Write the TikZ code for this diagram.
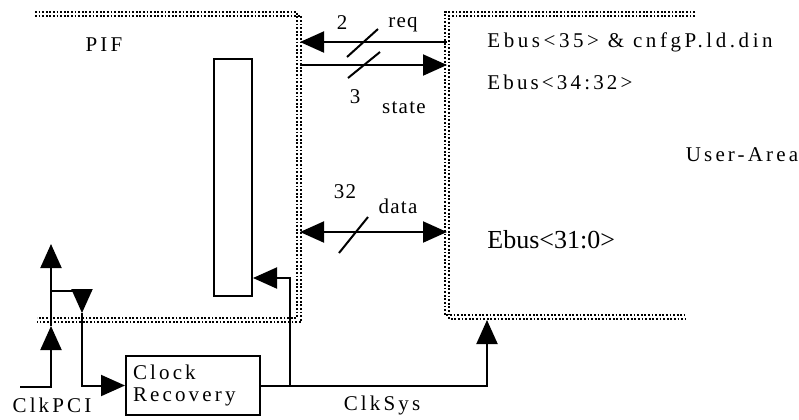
\documentclass[tikz,border=0pt]{standalone}
\usepackage{fontspec}
\setmainfont{Liberation Serif}
\newfontfamily\spacedfont[LetterSpace=15]{Liberation Serif}
\newfontfamily\widefont[LetterSpace=17]{Liberation Serif}
\newfontfamily\busfont[LetterSpace=6]{Liberation Serif}
\usetikzlibrary{arrows.meta, positioning, calc}

\begin{document}
\begin{tikzpicture}[
    x=0.5pt, y=-0.5pt,
    box/.style={draw, line width=1pt, inner sep=0pt},
    wire/.style={line width=1pt},
    arr/.style={-{Triangle[length=12pt, width=10.5pt]}},
    both/.style={{Triangle[length=12pt, width=10.5pt]}-{Triangle[length=12pt, width=10.5pt]}},
    bound/.style={line width=1.3pt, dash pattern=on 0.9pt off 0.9pt},
    sig/.style={font=\fontsize{10.5}{11}\selectfont\spacedfont, inner sep=0pt},
    bus/.style={font=\fontsize{10.5}{11}\selectfont\busfont, inner sep=0pt}
  ]
  \useasboundingbox (0,0) rectangle (799,419);

  % area borders (double dotted)
  \draw[bound] (35,12) -- (297,12) -- (297,318) -- (37,318);
  \draw[bound] (35,16) -- (301,16) -- (301,322) -- (37,322);
  \draw[bound] (695,12) -- (445,12) -- (445,315) -- (685,315);
  \draw[bound] (695,16) -- (449,16) -- (449,319) -- (685,319);

  \node[sig] (pif) at (104,45) {PIF};
  \node[sig] (user) at (742,155) {User-Area};

  \node[box, minimum width=19pt, minimum height=118.5pt] (reg) at (233,177.5) {};
  \node[box, sig, inner xsep=3.5pt, text width=60pt, minimum height=29.5pt,
        align=left] (clk) at (193,385.5) {Clock\\Recovery};

  % buses between the areas
  \coordinate (reqL) at (300,42);
  \coordinate (reqR) at (447,42);
  \coordinate (stL) at (300,65);
  \coordinate (stR) at (447,65);
  \coordinate (dataL) at (300,232);
  \coordinate (dataR) at (447,232);
  \draw[wire, arr] (reqR) -- (reqL);
  \draw[wire, arr] (stL) -- (stR);
  \draw[wire, both] (dataL) -- (dataR);
  \draw[wire] (347,57) -- (378,29);
  \draw[wire] (348,78) -- (380,52);
  \draw[wire] (339,253) -- (368,217);

  \node[bus] (nreq) at (342,23) {2};
  \node[bus] (lreq) at (403,25) {req};
  \node[bus] (nst) at (355,97) {3};
  \node[bus] (lst) at (404,108) {state};
  \node[bus] (ndata) at (345,192) {32};
  \node[bus] (ldata) at (398,206) {data};

  \node[anchor=west, inner sep=0pt, font=\fontsize{10.5}{11}\selectfont\widefont]
    (ebreq) at (487,42) {Ebus<35> \& cnfgP.ld.din};
  \node[sig, anchor=west] (ebst) at (487,82) {Ebus<34:32>};
  \node[anchor=west, inner sep=0pt, font=\fontsize{13}{14}\selectfont]
    (ebdata) at (487,240) {Ebus<31:0>};

  % clocks
  \coordinate (pci) at (20,387);
  \coordinate (pcimid) at (51,326);
  \coordinate (pcitop) at (51,244);
  \coordinate (tap) at (51,291);
  \coordinate (tapdn) at (82,313);
  \draw[wire, arr] (pci) -| (pcimid);
  \draw[wire, arr] (pcimid) -- (pcitop);
  \draw[wire, arr] (tap) -| (tapdn);
  \draw[wire, arr] (tapdn) |- (clk.west);

  \coordinate (sysup) at (487,320);
  \coordinate (systap) at (290,385.5);
  \draw[wire, arr] (clk.east) -| (sysup);
  \draw[wire, arr] (systap) |- (reg.east |- 0,278);

  \node[sig] (lpci) at (52,405) {ClkPCI};
  \node[sig] (lsys) at (382,405) {ClkSys};
\end{tikzpicture}
\end{document}
